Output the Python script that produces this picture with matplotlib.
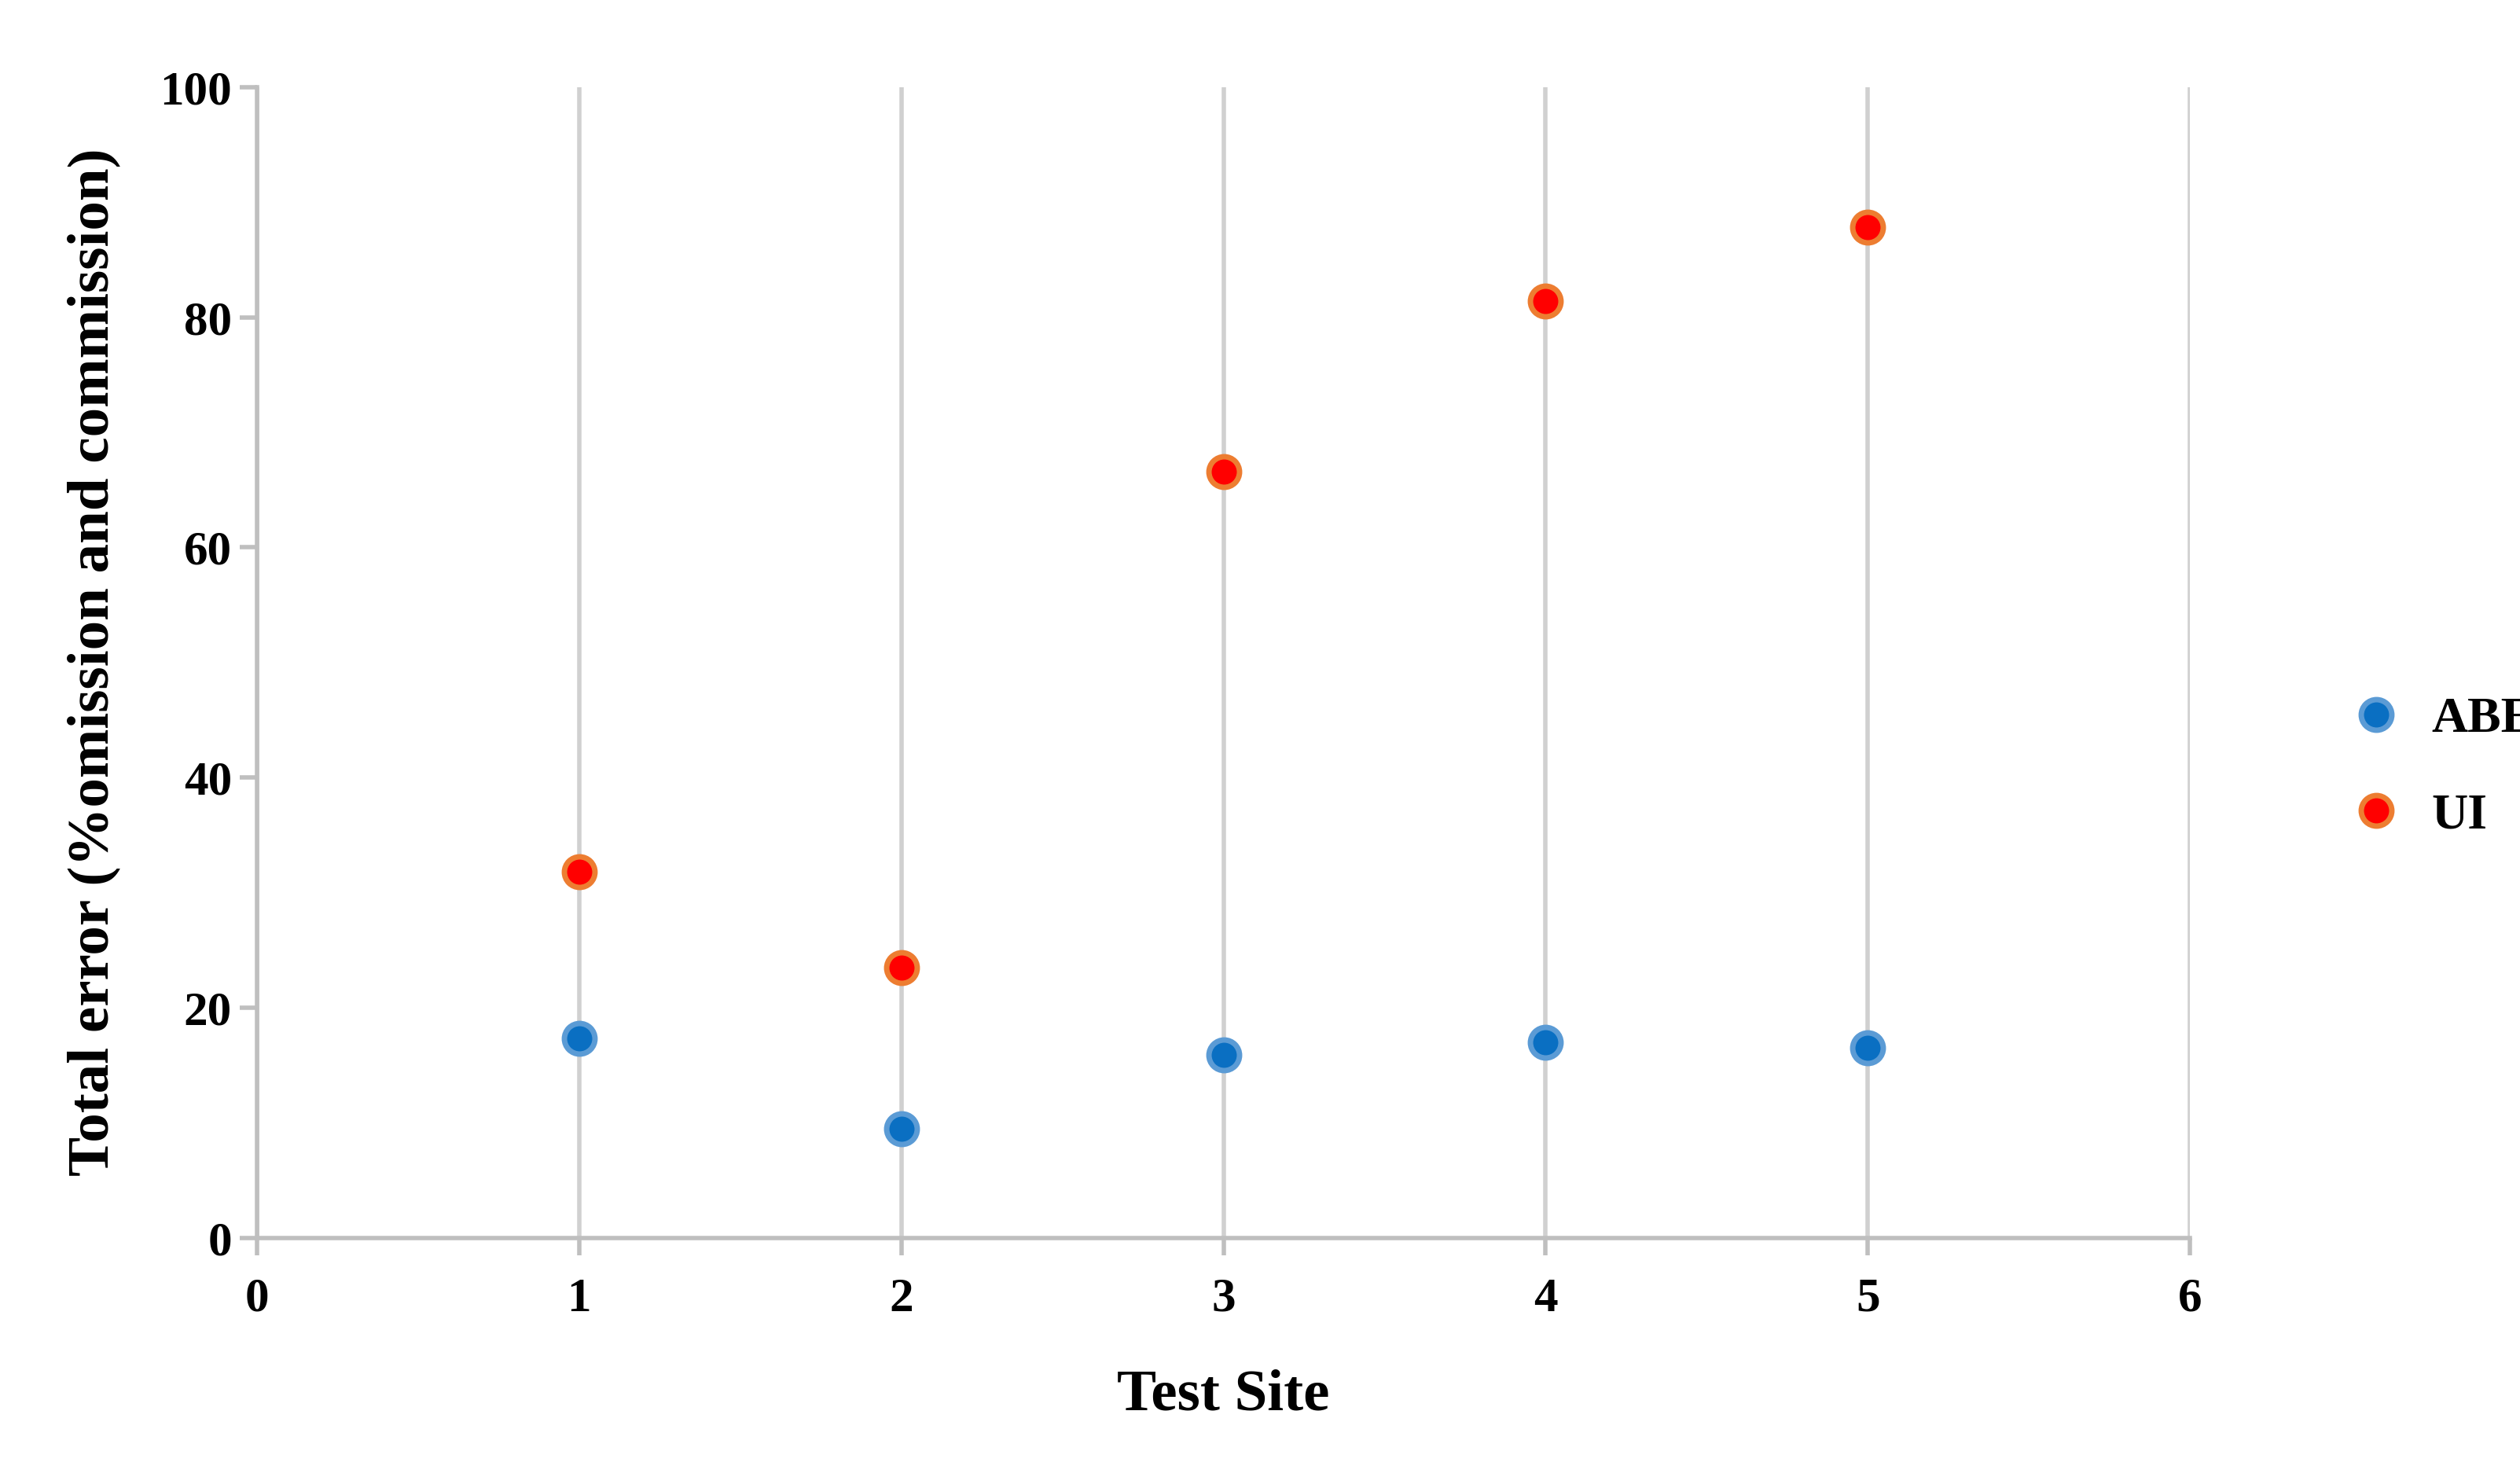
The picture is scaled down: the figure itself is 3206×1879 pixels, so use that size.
import matplotlib
matplotlib.use("Agg")
import matplotlib.pyplot as plt

sites = [1, 2, 3, 4, 5]
abei = [17.3, 9.5, 15.9, 17.0, 16.5]
ui = [31.8, 23.5, 66.6, 81.4, 87.8]

plt.rcParams['font.family'] = ['Liberation Serif', 'DejaVu Serif']
plt.rcParams['font.weight'] = 'bold'

fig = plt.figure(figsize=(16.03, 9.395), dpi=200)
ax = fig.add_axes([0.102, 0.162, 0.767, 0.779])

ax.plot(sites, abei, 'o', ms=14, color='#0a6fc2', mec='#5b9bd5', mew=2.5, label='ABEI', zorder=3)
ax.plot(sites, ui, 'o', ms=14, color='#ff0000', mec='#ed7d31', mew=2.5, label='UI', zorder=3)

ax.set_xlim(0, 6)
ax.set_ylim(0, 100)
ax.set_xticks(range(0, 7))
ax.set_yticks(range(0, 101, 20))
ax.grid(axis='x', color='#d0d0d0', lw=2)
ax.set_axisbelow(True)
for s in ['top', 'right']:
    ax.spines[s].set_visible(False)
for s in ['left', 'bottom']:
    ax.spines[s].set_color('#bfbfbf')
    ax.spines[s].set_linewidth(2)
ax.tick_params(colors='#bfbfbf', width=2, length=8, labelcolor='black', labelsize=22)
ax.tick_params(axis='x', pad=10)
for lab in ax.get_xticklabels() + ax.get_yticklabels():
    lab.set_fontweight('bold')

ax.set_xlabel('Test Site', fontsize=27, fontweight='bold', labelpad=22)
ax.set_ylabel('Total error (%omission and commission)', fontsize=27, fontweight='bold', labelpad=18)

fig.legend(loc='center left', bbox_to_anchor=(0.905, 0.48), frameon=False,
           prop={'size': 23, 'weight': 'bold'}, handletextpad=0.1, labelspacing=1.0)

fig.savefig('out.png', dpi=200)
